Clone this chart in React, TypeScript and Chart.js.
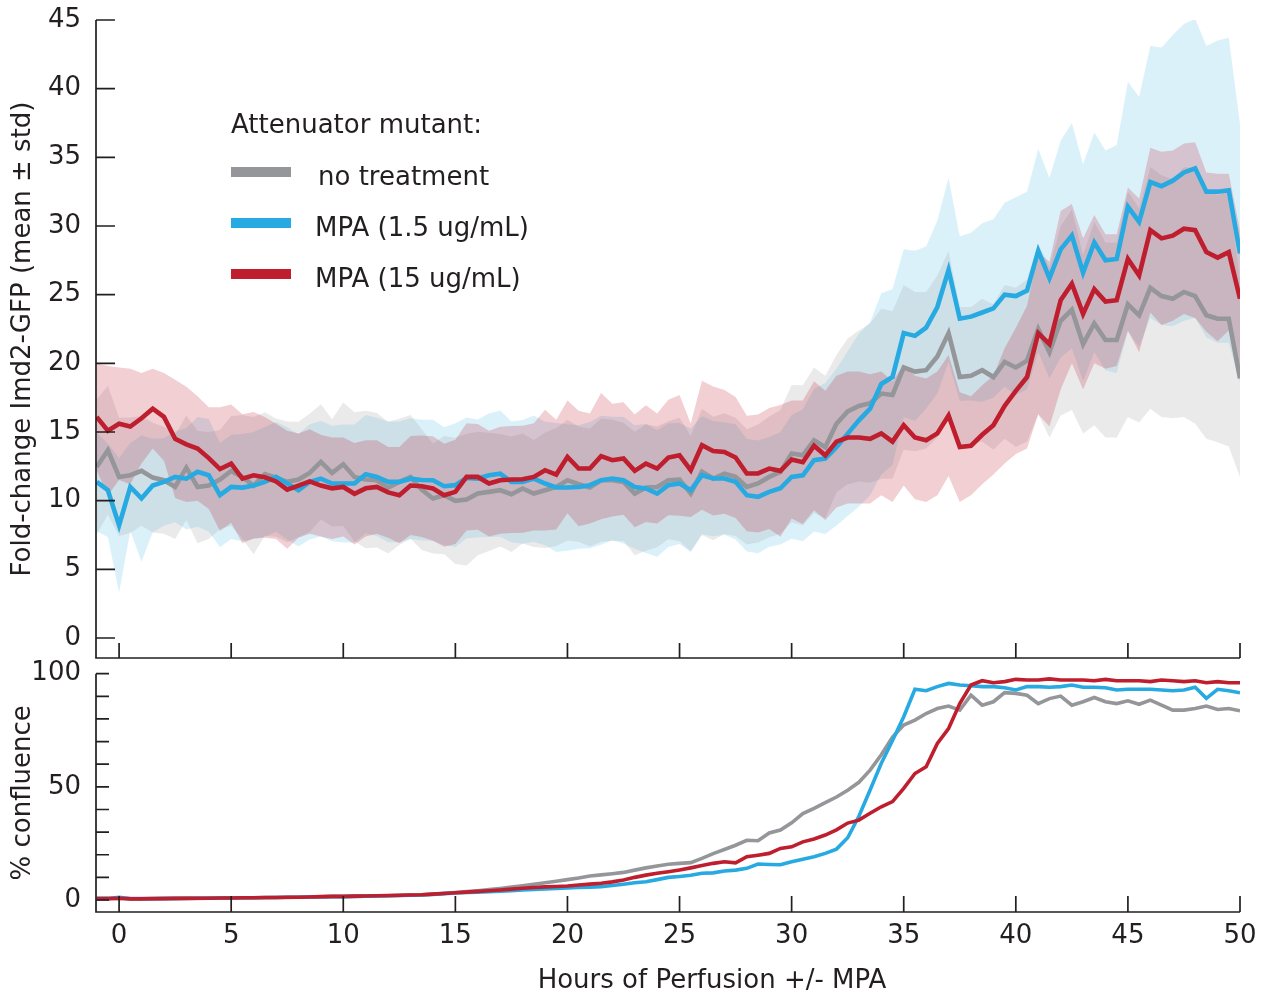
import React, { useEffect, useRef } from "react";
import { Chart, registerables } from "chart.js";

Chart.register(...registerables);

const FONT = "'DejaVu Sans', 'Liberation Sans', Arial, sans-serif";
const INK = "#231f20";
const GRAY = "#959699";
const BLUE = "#27aae1";
const RED = "#be1e2d";
const GRAY_FILL = "rgba(150,151,154,0.2)";
const BLUE_FILL = "rgba(39,170,225,0.17)";
const RED_FILL = "rgba(190,30,45,0.21)";

// ---------------- data ----------------
const hours = [
  -1, -0.5, 0, 0.5, 1, 1.5, 2, 2.5, 3, 3.5, 4, 4.5, 5, 5.5, 6, 6.5, 7, 7.5, 8, 8.5,
  9, 9.5, 10, 10.5, 11, 11.5, 12, 12.5, 13, 13.5, 14, 14.5, 15, 15.5, 16, 16.5, 17, 17.5, 18, 18.5,
  19, 19.5, 20, 20.5, 21, 21.5, 22, 22.5, 23, 23.5, 24, 24.5, 25, 25.5, 26, 26.5, 27, 27.5, 28, 28.5,
  29, 29.5, 30, 30.5, 31, 31.5, 32, 32.5, 33, 33.5, 34, 34.5, 35, 35.5, 36, 36.5, 37, 37.5, 38, 38.5,
  39, 39.5, 40, 40.5, 41, 41.5, 42, 42.5, 43, 43.5, 44, 44.5, 45, 45.5, 46, 46.5, 47, 47.5, 48, 48.5,
  49, 49.5, 50,
];

const hourTicks = [0, 5, 10, 15, 20, 25, 30, 35, 40, 45, 50];
const foldTicks = [0, 5, 10, 15, 20, 25, 30, 35, 40, 45];
const confLabelTicks = [0, 50, 100];
const confMinorTicks = [0, 10, 20, 30, 40, 50, 60, 70, 80, 90, 100];

const legendTitle = "Attenuator mutant:";
const seriesNames = ["no treatment", "MPA (1.5 ug/mL)", "MPA (15 ug/mL)"];

const grayMean = [
  12.46, 13.67, 11.73, 11.85, 12.17, 11.68, 11.49, 11.0, 12.4, 11.0,
  11.1, 11.54, 12.17, 11.73, 11.1, 11.93, 11.68, 11.37, 11.54, 12.02,
  12.82, 12.02, 12.65, 11.73, 11.54, 11.49, 10.95, 11.37, 11.73, 10.8,
  10.16, 10.4, 9.99, 10.08, 10.52, 10.64, 10.76, 10.47, 10.89, 10.52,
  10.76, 11.0, 11.49, 11.2, 10.96, 11.49, 11.49, 11.37, 10.52, 10.96,
  11.0, 11.49, 11.54, 10.52, 12.1, 11.61, 11.97, 11.73, 11.0, 11.25,
  11.73, 12.1,
  13.43, 13.3, 14.4, 13.9, 15.6, 16.5, 16.9, 17.1, 17.8, 17.7,
  19.7, 19.4, 19.5, 20.5, 22.2, 19.0, 19.1, 19.5, 19.0, 20.1,
  19.7, 20.2, 22.5, 20.8, 23.1, 23.9, 21.4, 22.9, 21.7, 21.7,
  24.3, 23.5, 25.5, 24.9, 24.7, 25.2, 24.9, 23.5, 23.25, 23.25,
  18.9,
];

const blueMean = [
  11.37, 10.76, 8.2, 11.0, 10.16, 11.1, 11.37, 11.73, 11.6, 12.1,
  11.85, 10.4, 11.0, 10.95, 11.1, 11.37, 11.73, 11.25, 10.76, 11.37,
  11.6, 11.25, 11.25, 11.25, 11.93, 11.73, 11.37, 11.37, 11.6, 11.5,
  11.49, 11.05, 11.13, 11.66, 11.61, 11.85, 11.97, 11.37, 11.37, 11.61,
  11.25, 10.96, 10.96, 11.0, 11.13, 11.49, 11.61, 11.49, 11.0, 10.89,
  10.52, 11.13, 11.25, 10.76, 11.85, 11.61, 11.61, 11.37, 10.4, 10.28,
  10.64, 10.9,
  11.73, 11.85, 12.95, 13.07, 13.9, 14.88, 15.85, 16.7, 18.5, 19.0,
  22.2, 22.0, 22.6, 24.1, 26.8, 23.25, 23.4, 23.7, 24.0, 25.0,
  24.9, 25.3, 28.2, 26.2, 28.3, 29.3, 26.6, 28.8, 27.5, 27.6,
  31.4, 30.3, 33.2, 32.9, 33.3, 33.9, 34.2, 32.5, 32.5, 32.6,
  28.0,
];

const redMean = [
  16.1, 15.1, 15.6, 15.4, 16.0, 16.7, 16.1, 14.5, 14.1, 13.8,
  13.1, 12.3, 12.7, 11.6, 11.85, 11.7, 11.4, 10.8, 11.1, 11.4,
  11.1, 10.9, 11.0, 10.5, 10.9, 11.0, 10.6, 10.4, 11.1, 11.05,
  10.89, 10.4, 10.64, 11.73, 11.73, 11.25, 11.49, 11.54, 11.56, 11.73,
  12.22, 11.9, 13.19, 12.34, 12.34, 13.24, 12.95, 13.07, 12.17, 12.7,
  12.34, 13.14, 13.3, 12.22, 14.04, 13.62, 13.55, 13.14, 11.98, 11.98,
  12.34, 12.17,
  13.0, 12.8, 14.0, 13.3, 14.3, 14.6, 14.6, 14.5, 14.9, 14.3,
  15.5, 14.6, 14.4, 14.9, 16.2, 13.9, 14.0, 14.8, 15.5, 16.9,
  18.0, 19.0, 22.2, 21.4, 24.6, 25.8, 23.6, 25.4, 24.5, 24.6,
  27.6, 26.4, 29.7, 29.1, 29.3, 29.8, 29.7, 28.1, 27.7, 28.1,
  24.7,
];

const grayStd = [
  4.9, 4.7, 4.3, 4.2, 4.0, 4.0, 3.9, 3.8, 3.8, 4.1,
  3.9, 3.6, 4.0, 4.5, 5.0, 4.5, 4.3, 4.4, 4.2, 4.3,
  4.2, 3.9, 4.5, 4.7, 5.0, 4.9, 4.8, 4.6, 4.5, 4.4,
  4.0, 4.3, 4.6, 4.8, 4.5, 4.3, 4.1, 4.2, 4.0, 3.9,
  4.2, 4.3, 4.4, 4.2, 4.3, 4.5, 4.4, 4.3, 4.5, 4.6,
  4.4, 4.3, 4.5, 4.2, 4.6, 4.5, 4.4, 4.3, 4.2, 4.3,
  4.4, 4.5,
  5.0, 5.1, 5.3, 5.2, 5.0, 5.3, 5.5, 5.8, 6.2, 6.1,
  6.0, 5.8, 5.7, 5.9, 6.0, 5.1, 5.0, 5.2, 5.3, 5.6,
  5.8, 5.9, 6.2, 6.2, 6.9, 7.3, 6.5, 7.4, 7.1, 7.1,
  8.2, 7.8, 8.8, 8.8, 8.7, 9.1, 9.3, 9.0, 9.0, 9.3,
  7.2,
];

const blueStd = [
  3.6, 3.4, 4.9, 3.2, 4.6, 3.4, 3.2, 3.3, 3.7, 4.0,
  4.1, 3.8, 3.8, 3.9, 3.9, 4.0, 4.0, 4.1, 4.1, 4.2,
  4.2, 4.2, 4.3, 4.3, 4.3, 4.3, 4.4, 4.4, 4.4, 4.4,
  4.4, 4.3, 4.5, 4.4, 4.3, 4.5, 4.6, 4.4, 4.5, 4.6,
  4.5, 4.7, 4.6, 4.5, 4.6, 4.7, 4.5, 4.6, 4.5, 4.7,
  4.6, 4.5, 4.4, 4.5, 4.3, 4.2, 4.1, 4.2, 4.1, 4.1,
  4.0, 4.1,
  4.5, 4.8, 5.2, 5.5, 5.7, 6.0, 6.3, 6.3, 6.6, 6.4,
  6.1, 6.2, 5.9, 6.3, 6.7, 6.0, 6.1, 6.5, 6.5, 6.7,
  7.2, 7.2, 7.4, 7.3, 7.9, 8.2, 7.9, 8.0, 8.0, 8.3,
  9.1, 9.1, 9.9, 10.1, 10.6, 10.8, 10.9, 10.6, 11.0, 11.1,
  9.4,
];

const redStd = [
  3.9, 4.7, 4.1, 4.2, 3.3, 2.9, 3.2, 4.3, 4.2, 3.8,
  3.7, 4.5, 4.3, 4.7, 4.6, 4.4, 4.2, 4.3, 3.8, 3.8,
  3.7, 3.7, 3.6, 3.7, 3.5, 3.4, 3.3, 3.5, 3.6, 3.7,
  3.8, 3.75, 3.8, 3.9, 3.85, 3.85, 3.9, 3.9, 3.9, 3.9,
  4.4, 4.0, 4.1, 4.2, 4.0, 4.6, 4.1, 4.1, 4.1, 4.25,
  4.0, 4.2, 4.4, 3.4, 4.7, 4.7, 4.5, 4.4, 4.2, 4.3,
  4.4, 4.8,
  4.3, 4.5, 4.7, 4.7, 4.8, 4.8, 4.8, 4.7, 4.5, 4.4,
  4.4, 4.5, 4.5, 4.5, 4.4, 4.0, 3.6, 3.6, 3.6, 4.2,
  4.6, 5.2, 5.9, 6.0, 6.5, 5.8, 5.5, 5.4, 4.9, 4.8,
  5.2, 5.6, 6.0, 6.3, 6.2, 6.2, 6.4, 5.8, 6.1, 5.7,
  5.0,
];

const grayConf = [
  0.5, 0.6, 0.8, 0.5, 0.5, 0.5, 0.6, 0.6, 0.7, 0.7,
  0.8, 0.8, 0.9, 0.9, 1.0, 1.0, 1.1, 1.1, 1.2, 1.3,
  1.4, 1.5, 1.5, 1.6, 1.7, 1.8, 1.9, 2.0, 2.2,
  2.3, 2.6, 3.0, 3.3, 3.7, 4.1, 4.6, 5.1, 5.7, 6.3,
  7.0, 7.6, 8.3, 9.0, 9.7, 10.6, 11.1, 11.6, 12.2, 13.2,
  14.2, 15.0, 15.8, 16.2, 16.5, 18.4, 20.5, 22.3, 24.2, 26.4,
  26.2, 29.6, 30.9, 34.1, 38.2, 40.5, 43.0, 45.5, 48.5, 52.0,
  57.4, 64.2, 72.0, 77.3, 79.5, 82.4, 84.6, 85.7, 83.9, 90.5,
  86.1, 87.6, 91.6, 91.3, 90.5, 86.8, 89.0, 90.1, 86.1, 87.6,
  89.5, 87.6, 86.8, 88.0, 86.5, 88.3, 86.1, 83.9, 83.9, 84.6,
  85.7, 84.2, 84.6, 83.6,
];

const blueConf = [
  0.8, 0.7, 1.2, 0.6, 0.6, 0.6, 0.7, 0.7, 0.8, 0.8,
  0.9, 0.9, 1.0, 1.0, 1.0, 1.1, 1.1, 1.2, 1.2, 1.3,
  1.4, 1.5, 1.5, 1.6, 1.7, 1.8, 1.9, 2.0, 2.1,
  2.2, 2.5, 2.8, 3.1, 3.3, 3.5, 3.7, 3.9, 4.1, 4.4,
  4.7, 4.9, 5.1, 5.3, 5.5, 5.7, 5.9,
  6.4, 7.0, 7.6, 8.1, 9.0, 10.0, 10.4, 10.9, 11.8, 12.0,
  12.8, 13.2, 14.0, 15.9, 15.7, 15.6, 16.9, 18.0, 19.1, 20.6,
  22.5, 27.5, 37.0, 48.6, 60.4, 70.5, 81.0, 93.1,
  92.5, 94.3, 95.7, 95.0, 94.7, 94.3, 94.3, 93.8, 92.8, 94.3,
  94.3, 94.0, 94.3, 95.0, 94.0, 94.0, 93.8, 92.8, 93.1, 93.1,
  93.1, 92.8, 92.5, 92.8, 94.0, 89.1, 93.1, 92.5, 91.6,
];

const redConf = [
  0.6, 0.6, 0.8, 0.5, 0.5, 0.6, 0.6, 0.7, 0.7, 0.8,
  0.8, 0.9, 0.9, 1.0, 1.0, 1.1, 1.1, 1.2, 1.2, 1.3,
  1.5, 1.6, 1.6, 1.7, 1.8, 1.9, 2.0, 2.1, 2.2,
  2.3, 2.6, 2.9, 3.2, 3.5, 3.8, 4.1, 4.4, 4.8, 5.2,
  5.5, 5.8, 6.0, 6.2, 6.6, 7.0, 7.4,
  8.0, 8.8, 10.0, 11.0, 11.8, 12.5, 13.3, 14.2, 15.2, 16.2,
  16.9, 16.4, 19.1, 19.8, 20.6, 22.8, 23.5, 25.7, 27.0, 28.7,
  31.0, 34.0, 35.3, 38.3, 41.2, 43.5, 49.3, 55.9,
  58.9, 69.2, 75.8, 86.8, 95.0, 96.9, 96.0, 96.5, 97.5, 97.2,
  97.2, 97.7, 97.2, 97.2, 97.2, 96.9, 97.5, 96.9, 96.9, 96.9,
  96.5, 97.2, 96.9, 96.5, 96.9, 96.0, 96.5, 96.0, 96.0,
];

// ---------------- helpers ----------------
const pts = (ys: number[]) => hours.map((h, i) => ({ x: h, y: ys[i] }));
const bandPts = (m: number[], s: number[], sign: number) =>
  hours.map((h, i) => ({ x: h, y: m[i] + sign * s[i] }));

const tickFont = { family: FONT, size: 26 };

const lineDs = (data: any, color: string, width: number, order: number) => ({
  data,
  borderColor: color,
  borderWidth: width,
  pointRadius: 0,
  fill: false,
  tension: 0,
  order,
});

const edgeDs = (data: any, order: number) => ({
  data,
  borderWidth: 0,
  borderColor: "rgba(0,0,0,0)",
  pointRadius: 0,
  fill: false,
  tension: 0,
  order,
});

const upperDs = (data: any, target: number, color: string, order: number) => ({
  data,
  borderWidth: 0,
  borderColor: "rgba(0,0,0,0)",
  backgroundColor: color,
  pointRadius: 0,
  fill: target,
  tension: 0,
  order,
});

const topPlugin = {
  id: "topAxesLegend",
  afterDraw(chart: any) {
    const { ctx, chartArea: a, scales } = chart;
    const x = scales.x;
    const y = scales.y;
    ctx.save();
    ctx.strokeStyle = INK;
    ctx.lineWidth = 1.7;
    ctx.beginPath();
    ctx.moveTo(a.left, y.getPixelForValue(45));
    ctx.lineTo(a.left, a.bottom);
    ctx.lineTo(x.getPixelForValue(50), a.bottom);
    for (const v of foldTicks) {
      const py = y.getPixelForValue(v);
      ctx.moveTo(a.left, py);
      ctx.lineTo(a.left + 19, py);
    }
    for (const v of hourTicks) {
      const px = x.getPixelForValue(v);
      ctx.moveTo(px, a.bottom);
      ctx.lineTo(px, a.bottom - 15);
    }
    ctx.stroke();

    // legend
    ctx.font = `26px ${FONT}`;
    ctx.fillStyle = INK;
    ctx.textAlign = "left";
    ctx.textBaseline = "alphabetic";
    ctx.fillText(legendTitle, 231, 133);
    const colors = [GRAY, BLUE, RED];
    const rowY = [172, 223, 274];
    const textX = [318, 315, 315];
    seriesNames.forEach((name, i) => {
      ctx.fillStyle = colors[i];
      ctx.fillRect(231, rowY[i] - 5, 60, 10);
      ctx.fillStyle = INK;
      ctx.fillText(name, textX[i], rowY[i] + 12.5);
    });
    ctx.restore();
  },
};

const bottomPlugin = {
  id: "bottomAxes",
  afterDraw(chart: any) {
    const { ctx, chartArea: a, scales } = chart;
    const x = scales.x;
    const y = scales.y;
    ctx.save();
    ctx.strokeStyle = INK;
    ctx.lineWidth = 1.7;
    ctx.beginPath();
    ctx.moveTo(a.left, y.getPixelForValue(100));
    ctx.lineTo(a.left, a.bottom);
    ctx.lineTo(x.getPixelForValue(50), a.bottom);
    for (const v of confMinorTicks) {
      const py = y.getPixelForValue(v);
      ctx.moveTo(a.left, py);
      ctx.lineTo(a.left + 13, py);
    }
    for (const v of hourTicks) {
      const px = x.getPixelForValue(v);
      ctx.moveTo(px, a.bottom);
      ctx.lineTo(px, a.bottom - 16);
    }
    ctx.stroke();
    ctx.font = `26px ${FONT}`;
    ctx.fillStyle = INK;
    ctx.textAlign = "center";
    ctx.textBaseline = "alphabetic";
    ctx.fillText("Hours of Perfusion +/- MPA", 712, 338);
    ctx.restore();
  },
};

const fixedY = (s: any) => {
  s.width = 96;
  s.paddingTop = 0;
  s.paddingBottom = 0;
};

function topConfig(): any {
  return {
    type: "line",
    data: {
      datasets: [
        lineDs(pts(redMean), RED, 4.6, 1),
        lineDs(pts(blueMean), BLUE, 4.6, 2),
        lineDs(pts(grayMean), GRAY, 4.6, 3),
        edgeDs(bandPts(grayMean, grayStd, -1), 20),
        upperDs(bandPts(grayMean, grayStd, 1), 3, GRAY_FILL, 20),
        edgeDs(bandPts(blueMean, blueStd, -1), 30),
        upperDs(bandPts(blueMean, blueStd, 1), 5, BLUE_FILL, 30),
        edgeDs(bandPts(redMean, redStd, -1), 10),
        upperDs(bandPts(redMean, redStd, 1), 7, RED_FILL, 10),
      ],
    },
    options: {
      animation: false,
      responsive: false,
      maintainAspectRatio: false,
      events: [],
      layout: { padding: { left: 0, right: 26, top: 20, bottom: 4 } },
      plugins: {
        legend: { display: false },
        tooltip: { enabled: false },
        filler: { drawTime: "beforeDatasetsDraw", propagate: false },
      },
      scales: {
        x: { type: "linear", min: -1.03, max: 50, display: false },
        y: {
          type: "linear",
          min: -1.456,
          max: 45,
          afterBuildTicks: (s: any) => {
            s.ticks = foldTicks.map((v) => ({ value: v }));
          },
          afterFit: fixedY,
          grid: { display: false, drawTicks: false },
          border: { display: false },
          ticks: { padding: 15, font: tickFont, color: INK, autoSkip: false },
          title: {
            display: true,
            text: "Fold-change Imd2-GFP (mean ± std)",
            font: tickFont,
            color: INK,
            padding: { top: 8, bottom: 0 },
          },
        },
      },
    },
    plugins: [topPlugin],
  };
}

function bottomConfig(): any {
  return {
    type: "line",
    data: {
      datasets: [
        lineDs(pts(redConf), RED, 3.6, 1),
        lineDs(pts(blueConf), BLUE, 3.6, 2),
        lineDs(pts(grayConf), GRAY, 3.6, 3),
      ],
    },
    options: {
      animation: false,
      responsive: false,
      maintainAspectRatio: false,
      events: [],
      layout: { padding: { left: 0, right: 26, top: 23.7, bottom: 0 } },
      plugins: {
        legend: { display: false },
        tooltip: { enabled: false },
      },
      scales: {
        x: {
          type: "linear",
          min: -1.03,
          max: 50,
          afterBuildTicks: (s: any) => {
            s.ticks = hourTicks.map((v) => ({ value: v }));
          },
          afterFit: (s: any) => {
            s.height = 84;
            s.paddingLeft = 0;
            s.paddingRight = 0;
          },
          grid: { display: false, drawTicks: false },
          border: { display: false },
          ticks: { padding: 8.4, font: tickFont, color: INK, maxRotation: 0, autoSkip: false },
        },
        y: {
          type: "linear",
          min: -5.3,
          max: 100,
          afterBuildTicks: (s: any) => {
            s.ticks = confLabelTicks.map((v) => ({ value: v }));
          },
          afterFit: fixedY,
          grid: { display: false, drawTicks: false },
          border: { display: false },
          ticks: { padding: 15, font: tickFont, color: INK, autoSkip: false },
          title: {
            display: true,
            text: "% confluence",
            font: tickFont,
            color: INK,
            padding: { top: 8, bottom: 0 },
          },
        },
      },
    },
    plugins: [bottomPlugin],
  };
}

export default function App() {
  const topRef = useRef<HTMLCanvasElement>(null);
  const botRef = useRef<HTMLCanvasElement>(null);

  useEffect(() => {
    const c1 = new Chart(topRef.current as HTMLCanvasElement, topConfig());
    const c2 = new Chart(botRef.current as HTMLCanvasElement, bottomConfig());
    return () => {
      c1.destroy();
      c2.destroy();
    };
  }, []);

  return (
    <div
      style={{
        position: "absolute",
        left: 0,
        top: 0,
        width: 1266,
        height: 996,
        background: "#ffffff",
        overflow: "hidden",
      }}
    >
      <canvas
        ref={topRef}
        width={1266}
        height={662}
        style={{ position: "absolute", left: 0, top: 0, width: 1266, height: 662 }}
      />
      <canvas
        ref={botRef}
        width={1266}
        height={346}
        style={{ position: "absolute", left: 0, top: 650, width: 1266, height: 346 }}
      />
    </div>
  );
}
